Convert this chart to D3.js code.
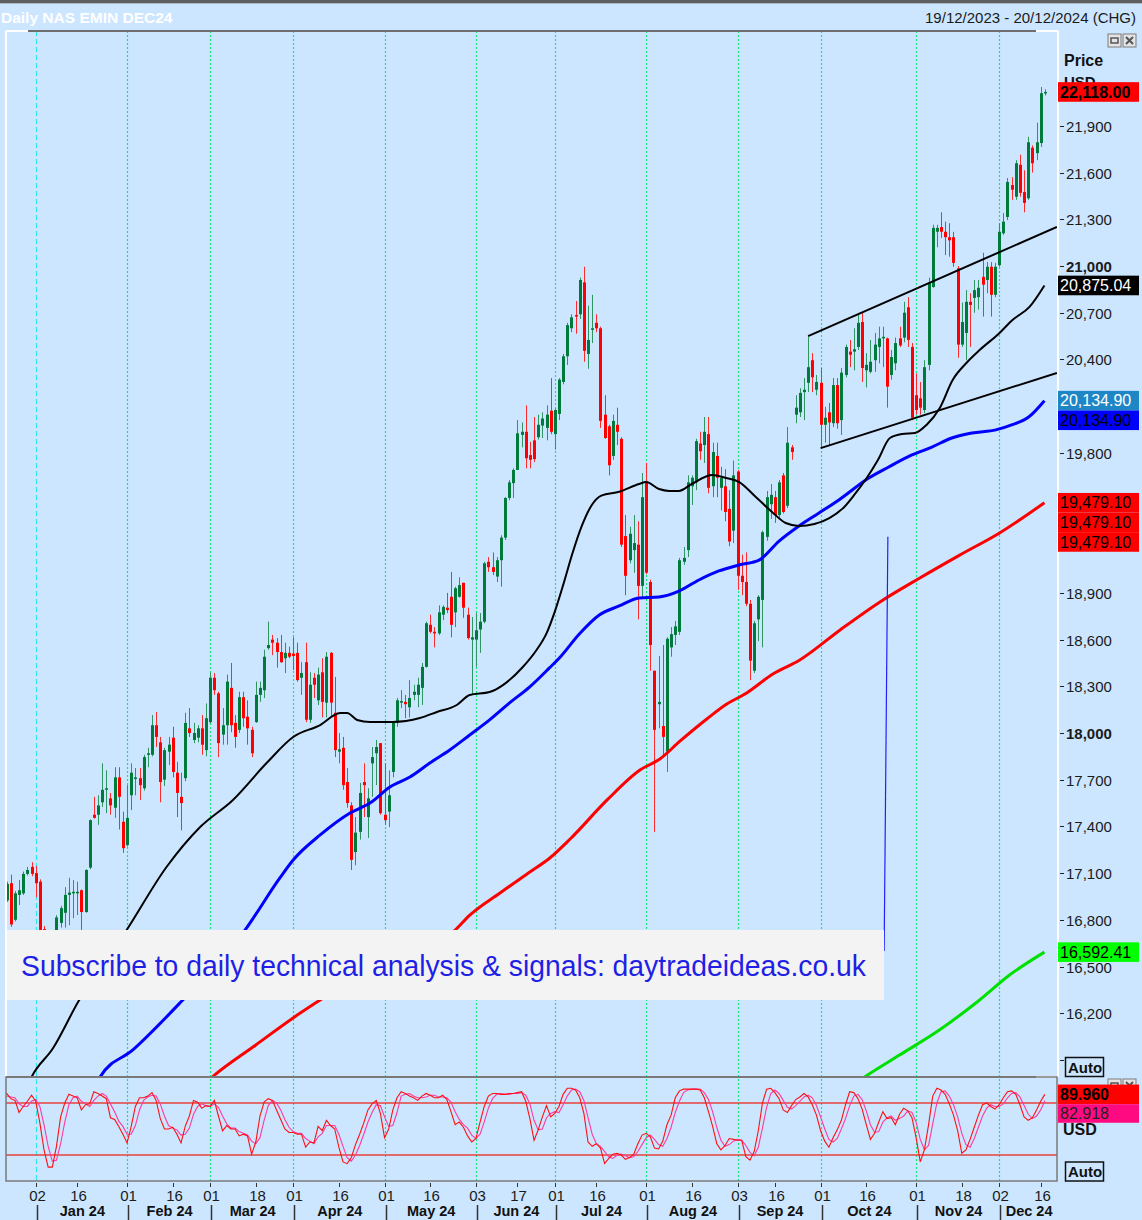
<!DOCTYPE html>
<html><head><meta charset="utf-8">
<script src="https://cdn.jsdelivr.net/npm/d3@7"></script>
<style>
html,body{margin:0;padding:0;background:#cce6ff;overflow:hidden;}
svg{display:block;font-family:"Liberation Sans",Arial,sans-serif;}
</style></head><body>
<svg id="c" width="1142" height="1220"></svg>
<script>
// ---------------- DATA ----------------
const holidays=["2023-12-25","2024-01-01","2024-02-19","2024-03-29","2024-05-27","2024-06-19","2024-07-04","2024-09-02","2024-11-28"];
const open=[
17000,16925,17035,16800,16960,16970,17095,17140,17100,17045,
16740,16650,16620,16690,16780,16845,16960,16970,16970,16990,
16850,17135,17475,17475,17555,17635,17580,17520,17715,17430,
17280,17600,17705,17710,17645,17860,17860,18050,17940,17700,
17880,17970,17745,17590,17710,18030,17955,17970,18030,17890,
18070,18355,18255,17990,18050,18290,18065,18020,18230,18105,
18020,18070,18245,18275,18545,18600,18580,18520,18480,18515,
18510,18515,18355,18455,18085,18355,18210,18390,18195,18515,
18130,17880,17905,17685,17535,17235,17365,17685,17460,17805,
17870,17935,17475,17495,17750,18065,18195,18200,18165,18245,
18245,18290,18425,18695,18650,18640,18760,18805,18875,18775,
18875,18965,18760,18600,18600,18665,18715,19100,19065,19005,
19110,19255,19510,19605,19690,19915,19935,19785,19880,19900,
19975,19960,20070,19920,20050,20255,20420,20600,20685,20690,
20895,20435,20590,20635,20600,20045,19970,19780,19980,19890,
19265,19110,19175,19210,18945,19610,18970,18400,18185,18045,
17880,18550,18630,18650,19100,19175,19585,19610,19860,19850,
19920,19585,19780,19575,19585,19440,19300,19680,19010,18970,
18830,18400,18730,18855,19260,19470,19515,19400,19655,19460,
19835,20045,20060,20190,20250,20395,20205,20250,19980,20060,
19990,20235,20010,20300,20450,20450,20480,20640,20330,20320,
20395,20480,20535,20535,20300,20375,20535,20540,20735,20480,
20170,20150,20075,20365,20865,21220,21250,21220,21185,21185,
20985,20495,20570,20770,20795,20800,20930,20910,20995,20815,
21005,21210,21315,21520,21445,21650,21475,21435,21760,21725,
21790,22110];
const high=[
17060,17045,17090,16985,17055,17110,17140,17170,17145,17060,
16760,16710,16720,16830,16890,17010,17070,17055,17045,16995,
17125,17445,17590,17600,17805,17760,17615,17780,17780,17495,
17665,17805,17775,17775,17860,17905,18115,18135,17975,17905,
17975,18040,17815,17745,18130,18160,18065,18050,18115,18190,
18390,18385,18265,18160,18375,18450,18115,18265,18265,18210,
18040,18330,18330,18535,18715,18630,18610,18630,18580,18555,
18615,18580,18455,18580,18390,18385,18420,18480,18520,18520,
18360,18000,17975,17775,17555,17460,17680,17805,17645,17910,
17955,17935,17805,17760,18070,18225,18275,18245,18340,18310,
18355,18450,18715,18760,18680,18820,18820,18900,19035,18940,
19000,18965,18805,18745,18770,18770,19100,19130,19160,19130,
19270,19515,19625,19700,20010,19995,20105,19870,20030,20045,
20060,20105,20280,20085,20280,20435,20635,20690,20775,20925,
20995,20745,20815,20690,20610,20170,19980,20045,20090,19900,
19400,19325,19400,19360,19670,19735,18985,18400,18495,18565,
18615,18680,18720,19125,19195,19655,19655,19890,19935,20030,
20030,19865,19865,19710,19695,19560,19750,19690,19145,19160,
18855,18720,18885,19300,19555,19600,19555,19625,19670,19965,
19850,20170,20215,20280,20545,20440,20300,20345,20095,20120,
20280,20280,20345,20495,20525,20600,20685,20700,20440,20525,
20570,20610,20610,20540,20460,20540,20610,20770,20800,20505,
20310,20255,20395,20925,21265,21265,21345,21285,21275,21220,
21000,20765,20845,20825,20910,20910,21085,21025,21025,21020,
21275,21340,21565,21570,21680,21715,21615,21830,21775,21920,
22150,22135];
const low=[
16980,16915,16755,16790,16895,16960,17085,17080,16945,16700,
16630,16580,16600,16660,16750,16750,16765,16810,16830,16735,
16845,17125,17450,17410,17525,17485,17475,17455,17380,17230,
17270,17505,17600,17570,17630,17780,17850,17910,17555,17660,
17795,17715,17460,17375,17690,17975,17935,17940,17860,17850,
18060,18245,17845,17925,17925,18005,17905,18000,18040,17925,
17845,18065,18200,18225,18535,18500,18420,18450,18385,18480,
18405,18330,18245,18070,18065,18225,18180,18100,18100,18100,
17845,17805,17635,17520,17120,17150,17315,17460,17325,17590,
17665,17475,17410,17395,17715,18040,18160,18095,18100,18210,
18165,18180,18420,18640,18550,18630,18725,18770,18615,18680,
18870,18740,18600,18245,18425,18515,18705,19035,19015,18970,
18940,19240,19495,19510,19690,19835,19700,19700,19740,19885,
19895,19880,19920,19820,20010,20240,20365,20575,20565,20660,
20385,20340,20505,20575,19960,19890,19655,19755,19850,19195,
18885,19090,19030,18730,18865,19020,18400,17365,18030,17850,
17750,18490,18565,18630,19080,19130,19465,19560,19755,19735,
19540,19515,19515,19430,19360,19200,19220,18920,18885,18815,
18340,18385,18590,18550,19235,19375,19350,19375,19410,19445,
19755,19990,20030,20010,20190,20190,20170,19830,19865,19850,
19965,19955,19915,20285,20350,20330,20460,20255,20220,20310,
20320,20375,20350,20090,20270,20330,20480,20510,20480,20010,
20045,20045,20055,20330,20860,21120,21180,21070,21060,20995,
20410,20480,20395,20480,20700,20720,20675,20825,20675,20800,
20995,21200,21295,21425,21425,21445,21345,21425,21600,21680,
21765,22095];
const close=[
17040,17030,16770,16970,16990,17095,17120,17095,17035,16735,
16650,16620,16700,16815,16875,16960,16975,16980,16980,16850,
17120,17440,17455,17535,17635,17645,17535,17715,17590,17260,
17455,17745,17715,17665,17845,17870,18050,17975,17685,17890,
17925,17750,17615,17550,18065,18000,18000,18030,17925,18095,
18355,18275,17935,18050,18330,18050,17975,18230,18095,18030,
17870,18245,18290,18490,18565,18580,18520,18455,18515,18490,
18495,18340,18385,18085,18310,18310,18375,18200,18490,18195,
17890,17895,17665,17550,17185,17360,17615,17665,17580,17845,
17910,17485,17440,17600,18065,18210,18205,18185,18225,18265,
18310,18425,18705,18650,18640,18775,18810,18790,18695,18930,
18950,18805,18610,18615,18660,18715,19090,19065,19035,19110,
19255,19510,19610,19690,19925,19935,19765,19755,19760,19980,
20020,20045,19935,20075,20270,20420,20620,20670,20675,20910,
20455,20525,20600,20600,20005,19895,19720,20005,19935,19210,
19010,19280,19220,18945,19515,19030,18565,18020,18200,17975,
18605,18635,18685,19110,19125,19610,19640,19875,19810,19935,
19575,19805,19640,19640,19420,19230,19655,19010,18970,18830,
18465,18705,18875,19290,19515,19530,19400,19610,19420,19865,
19805,20090,20185,20205,20350,20285,20255,19980,20025,19995,
20235,19990,20315,20480,20430,20465,20635,20345,20365,20385,
20495,20535,20545,20225,20415,20505,20490,20700,20525,20025,
20075,20090,20350,20890,21245,21245,21220,21185,21165,21020,
20495,20640,20770,20750,20845,20860,20880,20995,20815,20995,
21220,21285,21540,21490,21660,21470,21405,21795,21660,21795,
22110,22118];
// moving averages: [trading-day index, value]
const maBlack=[[4,15600],[7,15790],[12.2,15976],[18.2,16272],[29.9,16734],[39.5,17139],[47.6,17396],[55.5,17570],[63.6,17807],[70,17974],[76.5,18051],[81.3,18128],[83,18128],[85.4,18084],[88.5,18071],[94,18071],[100.5,18096],[104.6,18135],[109.4,18180],[112.5,18244],[117.3,18263],[120.5,18308],[125.3,18424],[128.6,18533],[131,18640],[133,18780],[135,18950],[137.2,19150],[139.5,19330],[141.8,19460],[144.2,19525],[148.5,19550],[153.3,19600],[155,19612],[158.1,19567],[160.5,19555],[162.9,19555],[166,19600],[170.9,19657],[174.2,19638],[177.4,19612],[181.4,19516],[185.3,19420],[188.6,19349],[191.8,19330],[195.5,19343],[199.1,19381],[202.7,19452],[205.1,19529],[208.1,19638],[210.8,19754],[213.7,19895],[216.6,19921],[219.7,19927],[222.5,19979],[225.7,20088],[228.8,20268],[232.1,20377],[235.3,20460],[240.1,20570],[243.2,20653],[247.3,20737],[250.9,20875.04]];
const maBlue=[[21,15650],[23.5,15790],[31.4,15964],[42.7,16265],[58.4,16734],[66.8,17069],[70,17184],[76.5,17345],[83.7,17486],[88.5,17550],[93.3,17653],[98.1,17717],[102.9,17807],[107.7,17891],[112.5,17987],[117.3,18084],[122.1,18193],[126.9,18295],[131.7,18418],[134.1,18482],[138.9,18636],[143.7,18758],[148.5,18816],[153.3,18867],[158.1,18874],[162.9,18912],[167.7,18983],[172.5,19041],[177.3,19079],[182.2,19111],[187,19233],[191.8,19330],[196.6,19413],[201.4,19497],[208.6,19638],[213.4,19709],[219,19786],[223.8,19837],[228.6,19895],[233.4,19927],[239.2,19947],[243,19979],[247.1,20030],[250.9,20134.90]];
const maRed=[[48,15730],[50.5,15790],[61,15996],[71.7,16201],[76.5,16285],[93.3,16510],[109,16734],[112.6,16831],[119.8,16972],[127,17107],[131.8,17197],[136.7,17319],[145.6,17570],[153.5,17762],[158.3,17833],[163.2,17949],[169.6,18090],[174.4,18186],[179.2,18257],[185.5,18379],[192,18469],[201.7,18662],[211.3,18842],[220.9,18996],[230.5,19143],[240.1,19285],[250.9,19479.10]];
const maGreen=[[206,15760],[207.6,15790],[216,15931],[225.6,16092],[235.3,16285],[242.5,16445],[250.9,16592.41]];
const channelUpper=[[194,20550],[253.9,21251]];
const channelLower=[[197,19830],[253.9,20313]];
const markerLine=[[213.2,19260],[212.3,16600]];
// stochastic
const stochK=[
90,91,85,83,69,76,82,89,82,57, 26,6,6,30,64,80,90,88,86,72,
78,79,93,91,88,85,63,61,53,44, 34,53,76,86,86,88,92,83,62,50,
50,52,44,34,53,65,83,81,74,77, 76,83,65,48,54,50,50,42,44,42,
21,35,65,81,85,83,72,61,50,46, 46,44,44,29,35,34,53,48,60,54,
50,29,12,10,17,32,44,57,72,79, 83,68,40,50,72,86,93,91,88,86,
83,88,91,89,86,86,89,84,70,55, 58,52,42,35,39,58,76,88,91,91,
90,90,91,91,92,93,82,62,37,49, 64,77,64,68,76,90,97,97,95,86,
68,35,30,33,28,10,16,21,22,20, 15,17,21,33,43,45,41,28,27,36,
55,66,86,94,96,96,96,96,95,86, 70,53,33,26,31,39,38,37,37,18,
14,24,48,80,96,97,92,85,72,69, 77,84,87,91,87,78,66,48,36,29,
40,49,60,78,93,92,85,73,55,38, 45,58,70,62,63,55,67,74,71,63,
40,12,26,55,88,97,95,90,79,66, 48,22,26,38,52,66,78,80,76,73,
78,86,93,94,90,78,64,60,63,72, 82,89.96];
const stochD=[
88,88,87,86,79,76,76,82,84,76, 55,30,13,14,33,58,78,86,88,82,
79,76,83,88,91,88,79,70,59,53, 44,44,54,72,83,87,89,88,79,65,
54,51,49,43,44,51,67,76,79,77, 76,79,75,65,56,51,51,47,45,43,
36,33,40,60,77,83,80,72,61,52, 47,45,45,39,36,33,41,45,54,54,
54,44,30,17,13,20,31,44,58,69, 78,77,64,53,54,69,88,90,91,88,
86,86,87,89,89,87,87,86,81,70, 61,55,51,43,39,44,58,74,85,90,
91,90,90,91,91,92,89,79,60,49, 50,63,68,70,69,78,88,95,96,93,
83,63,44,33,30,24,18,16,20,21, 19,17,18,24,32,40,43,38,32,30,
39,52,69,82,92,95,96,96,96,92, 84,70,52,37,30,32,36,38,37,31,
23,19,29,51,75,91,95,91,83,75, 73,77,82,87,89,86,77,64,50,38,
35,39,50,62,77,88,90,84,71,55, 46,47,58,63,65,60,62,65,71,69,
58,38,26,31,56,80,93,94,88,78, 64,45,32,29,39,52,65,74,78,76,
76,79,86,91,92,87,77,67,62,65, 72,82.918];
const stochLevels=[80,20];
const priceTicks=[15900,16200,16500,16800,17100,17400,17700,18000,18300,18600,18900,19200,19500,19800,20100,20400,20700,21000,21300,21600,21900];
const boldTicks=[18000,21000];
const monthStarts=["2024-01-02","2024-02-01","2024-03-01","2024-04-01","2024-05-01","2024-06-03","2024-07-01","2024-08-01","2024-09-03","2024-10-01","2024-11-01","2024-12-02"];
const monthLabels=["Jan 24","Feb 24","Mar 24","Apr 24","May 24","Jun 24","Jul 24","Aug 24","Sep 24","Oct 24","Nov 24","Dec 24"];
const dayTicks=["2024-01-02","2024-01-16","2024-02-01","2024-02-16","2024-03-01","2024-03-18","2024-04-01","2024-04-16","2024-05-01","2024-05-16","2024-06-03","2024-06-17","2024-07-01","2024-07-16","2024-08-01","2024-08-16","2024-09-03","2024-09-16","2024-10-01","2024-10-16","2024-11-01","2024-11-18","2024-12-02","2024-12-16"];
const titleText="Daily NAS EMIN DEC24";
const rangeText="19/12/2023 - 20/12/2024 (CHG)";
const bannerText="Subscribe to daily technical analysis & signals: daytradeideas.co.uk";

// ---------------- LAYOUT ----------------
const W=1142,H=1220,L=6,R=1057,T=31,B=1077,LT=1077,LB=1181;
const BG="#cce6ff";
const iso=d3.utcFormat("%Y-%m-%d");
const dates=d3.utcDays(new Date(Date.UTC(2023,11,19)),new Date(Date.UTC(2024,11,18)))
  .filter(d=>{const w=d.getUTCDay();return w!==0&&w!==6&&!holidays.includes(iso(d));});
const idx=s=>dates.findIndex(d=>iso(d)===s);
const x=d3.scaleLinear().domain([idx("2024-01-02"),idx("2024-12-16")]).range([35.7,1040.7]);
const y=d3.scaleLinear().domain([18000,21000]).range([733,266]);
const ys=d3.scaleLinear().domain([20,80]).range([1155,1103]);

const svg=d3.select("#c");
svg.append("rect").attr("width",W).attr("height",H).attr("fill",BG);
const defs=svg.append("defs");
defs.append("clipPath").attr("id","cm").append("rect").attr("x",L).attr("y",T).attr("width",R-L).attr("height",B-T);
defs.append("clipPath").attr("id","cl").append("rect").attr("x",L).attr("y",LT).attr("width",R-L).attr("height",LB-LT);

// top strip
svg.append("rect").attr("x",0).attr("y",0).attr("width",W).attr("height",3).attr("fill","#5f5f5f");
svg.append("rect").attr("x",0).attr("y",3).attr("width",W).attr("height",1).attr("fill","#a9b8c8");

// gridlines
const grid=svg.append("g");
monthStarts.forEach((s,k)=>{
  const gx=Math.round(x(idx(s)))+0.5;
  grid.append("line").attr("x1",gx).attr("x2",gx).attr("y1",T).attr("y2",LB)
    .attr("stroke",k===0?"#2ee6f0":"#10e87a").attr("stroke-width",1.2)
    .attr("stroke-dasharray",k===0?"5,3":"2,2");
});

// candles
const main=svg.append("g").attr("clip-path","url(#cm)");
const cg=main.append("g");
dates.forEach((d,i)=>{
  const up=close[i]>=open[i];
  const cx=Math.round(x(i));
  const col=up?"#007a3a":"#ff0000";
  const wcol=up?"#2f9460":"#ff2a2a";
  cg.append("line").attr("x1",cx+0.5).attr("x2",cx+0.5).attr("y1",y(high[i])).attr("y2",y(low[i]))
    .attr("stroke",wcol).attr("stroke-width",1);
  const top=y(Math.max(open[i],close[i])), bot=y(Math.min(open[i],close[i]));
  cg.append("rect").attr("x",cx-1).attr("y",top).attr("width",3).attr("height",Math.max(1.5,bot-top)).attr("fill",col);
});

// MAs
const line=d3.line().x(d=>x(d[0])).y(d=>y(d[1])).curve(d3.curveMonotoneX);
[[maGreen,"#00e000",3],[maRed,"#ff0000",3],[maBlue,"#0000ff",3],[maBlack,"#000000",2]].forEach(([arr,c,w])=>{
  main.append("path").attr("d",line(arr)).attr("fill","none").attr("stroke",c).attr("stroke-width",w).attr("stroke-linejoin","round");
});
// channel
const lin=d3.line().x(d=>x(d[0])).y(d=>y(d[1]));
[channelUpper,channelLower].forEach(a=>main.append("path").attr("d",lin(a)).attr("stroke","#000").attr("stroke-width",2).attr("fill","none"));
main.append("path").attr("d",lin(markerLine)).attr("stroke","#2020ff").attr("stroke-width",1.2).attr("fill","none");

// banner
main.append("rect").attr("x",L).attr("y",930).attr("width",878).attr("height",70).attr("fill","#f3f3f3");
main.append("text").attr("x",21).attr("y",976).attr("font-size",30).attr("fill","#1f1fe6")
  .attr("textLength",845).attr("lengthAdjust","spacingAndGlyphs").text(bannerText);

// main frame
svg.append("line").attr("x1",28).attr("x2",1036).attr("y1",T).attr("y2",T).attr("stroke","#6e6e6e").attr("stroke-width",2);
svg.append("line").attr("x1",L).attr("x2",28).attr("y1",T).attr("y2",T).attr("stroke","#fff").attr("stroke-width",2);
svg.append("line").attr("x1",1036).attr("x2",R+1).attr("y1",T).attr("y2",T).attr("stroke","#fff").attr("stroke-width",2);
svg.append("line").attr("x1",L).attr("x2",L).attr("y1",T).attr("y2",B).attr("stroke","#fff").attr("stroke-width",2);
svg.append("line").attr("x1",R+1).attr("x2",R+1).attr("y1",T).attr("y2",B).attr("stroke","#fff").attr("stroke-width",2);

// lower panel
const low_g=svg.append("g").attr("clip-path","url(#cl)");
stochLevels.forEach(v=>low_g.append("line").attr("x1",L).attr("x2",R).attr("y1",ys(v)).attr("y2",ys(v)).attr("stroke","#e8403c").attr("stroke-width",1.5));
const sl=d3.line().x((d,i)=>x(i)).y(d=>ys(d));
low_g.append("path").attr("d",sl(stochD)).attr("fill","none").attr("stroke","#ff3aa0").attr("stroke-width",1.1);
low_g.append("path").attr("d",sl(stochK)).attr("fill","none").attr("stroke","#ff1010").attr("stroke-width",1.1);
svg.append("line").attr("x1",L).attr("x2",1036).attr("y1",LT).attr("y2",LT).attr("stroke","#7a7a7a").attr("stroke-width",2);
svg.append("line").attr("x1",1036).attr("x2",R+1).attr("y1",LT).attr("y2",LT).attr("stroke","#fff").attr("stroke-width",2);
svg.append("rect").attr("x",L).attr("y",LT).attr("width",R-L).attr("height",LB-LT).attr("fill","none").attr("stroke","#7a7a7a").attr("stroke-width",1.5);

// header text
svg.append("text").attr("x",1).attr("y",23).attr("font-size",15.5).attr("font-weight","bold").attr("fill","#ffffff").text(titleText);
svg.append("text").attr("x",1136).attr("y",23).attr("font-size",15).attr("text-anchor","end").attr("fill","#1a1a1a").text(rangeText);

// icons
function icons(yy){
  [1108,1123].forEach((ix,k)=>{
    svg.append("rect").attr("x",ix).attr("y",yy).attr("width",13).attr("height",13).attr("fill","#e4e4e4").attr("stroke","#7c7c7c");
    if(k===0) svg.append("rect").attr("x",ix+3).attr("y",yy+4).attr("width",7).attr("height",5).attr("fill","none").attr("stroke","#555").attr("stroke-width",1.5);
    else svg.append("path").attr("d",`M${ix+3},${yy+3}L${ix+10},${yy+10}M${ix+10},${yy+3}L${ix+3},${yy+10}`).attr("stroke","#555").attr("stroke-width",2);
  });
}
icons(34); icons(1079);

// value labels layout
const lastOf=a=>a[a.length-1][1];
const vlabels=[
  {v:close[close.length-1],bg:"#ff0000",fg:"#000",b:true},
  {v:lastOf(maBlack),bg:"#000000",fg:"#fff"},
  {v:lastOf(maBlue),bg:"#1f86c6",fg:"#fff"},
  {v:lastOf(maBlue),bg:"#0000ff",fg:"#000"},
  {v:lastOf(maRed),bg:"#ff0000",fg:"#000"},
  {v:lastOf(maRed),bg:"#ff0000",fg:"#000"},
  {v:lastOf(maRed),bg:"#ff0000",fg:"#000"},
  {v:lastOf(maGreen),bg:"#00ff00",fg:"#000"}
];
const BH=19.6;
let prevBot=-1e9;
vlabels.forEach(l=>{
  let top=y(l.v)-BH/2;
  if(top<prevBot) top=prevBot;
  prevBot=top+BH;
  l.top=top;
});
const covered=ty=>vlabels.some(l=>ty>l.top-2&&ty<l.top+BH+2);

// right axis
const ax=svg.append("g");
priceTicks.forEach(p=>{
  const ty=Math.round(y(p))+0.5;
  ax.append("line").attr("x1",1060).attr("x2",1064).attr("y1",ty).attr("y2",ty).attr("stroke","#222");
  if(p>15900 && !covered(ty)) ax.append("text").attr("x",1066).attr("y",ty+5.5).attr("font-size",15)
    .attr("font-weight",boldTicks.includes(p)?"bold":"normal").attr("fill","#1a1a1a").text(d3.format(",")(p));
});
svg.append("text").attr("x",1064).attr("y",66).attr("font-size",16).attr("font-weight","bold").attr("fill","#111").text("Price");
svg.append("text").attr("x",1064).attr("y",87).attr("font-size",15).attr("font-weight","bold").attr("fill","#111").text("USD");

vlabels.forEach(l=>{
  svg.append("rect").attr("x",1058).attr("y",l.top).attr("width",81).attr("height",BH).attr("fill",l.bg);
  svg.append("text").attr("x",1060).attr("y",l.top+15.5).attr("font-size",16).attr("font-weight",l.b?"bold":"normal")
    .attr("fill",l.fg).text(d3.format(",.2f")(l.v));
});
// auto buttons
function auto(yy){
  svg.append("rect").attr("x",1065.5).attr("y",yy).attr("width",38).attr("height",19).attr("fill","none").attr("stroke","#111").attr("stroke-width",1.5);
  svg.append("text").attr("x",1068).attr("y",yy+15).attr("font-size",15).attr("font-weight","bold").attr("fill","#111").text("Auto");
}
auto(1057.5);
// lower labels
const sK=stochK[stochK.length-1], sD=stochD[stochD.length-1];
let t1=ys(sK)-BH/2;
svg.append("rect").attr("x",1058).attr("y",t1).attr("width",81).attr("height",BH).attr("fill","#ff0000");
svg.append("text").attr("x",1060).attr("y",t1+15.5).attr("font-size",16).attr("font-weight","bold").attr("fill","#000").text(d3.format(".3f")(sK));
let t2=Math.max(ys(sD)-BH/2,t1+BH);
svg.append("rect").attr("x",1058).attr("y",t2).attr("width",81).attr("height",BH-1).attr("fill","#ff0a80");
svg.append("text").attr("x",1060).attr("y",t2+15).attr("font-size",16).attr("fill","#222").text(d3.format(".3f")(sD));
svg.append("text").attr("x",1063).attr("y",1135).attr("font-size",16).attr("font-weight","bold").attr("fill","#111").text("USD");
auto(1162);

// bottom axis
const bx=svg.append("g");
dayTicks.forEach(s=>{
  const tx=Math.round(x(idx(s)))+0.5;
  bx.append("line").attr("x1",tx).attr("x2",tx).attr("y1",1183).attr("y2",1187).attr("stroke","#333");
  bx.append("text").attr("x",tx+1).attr("y",1201).attr("font-size",15).attr("text-anchor","middle").attr("fill","#1a1a1a")
    .text(d3.utcFormat("%d")(dates[idx(s)]));
});
monthStarts.forEach((s,k)=>{
  const sx=x(idx(s));
  const nx=k<monthStarts.length-1?x(idx(monthStarts[k+1])):R;
  bx.append("line").attr("x1",Math.round(sx)+1.5).attr("x2",Math.round(sx)+1.5).attr("y1",1205).attr("y2",1220).attr("stroke","#333").attr("stroke-width",1.5);
  bx.append("text").attr("x",(sx+nx)/2+1).attr("y",1216).attr("font-size",14.5).attr("font-weight","bold")
    .attr("text-anchor","middle").attr("fill","#111").text(monthLabels[k]);
});
</script>
</body></html>
